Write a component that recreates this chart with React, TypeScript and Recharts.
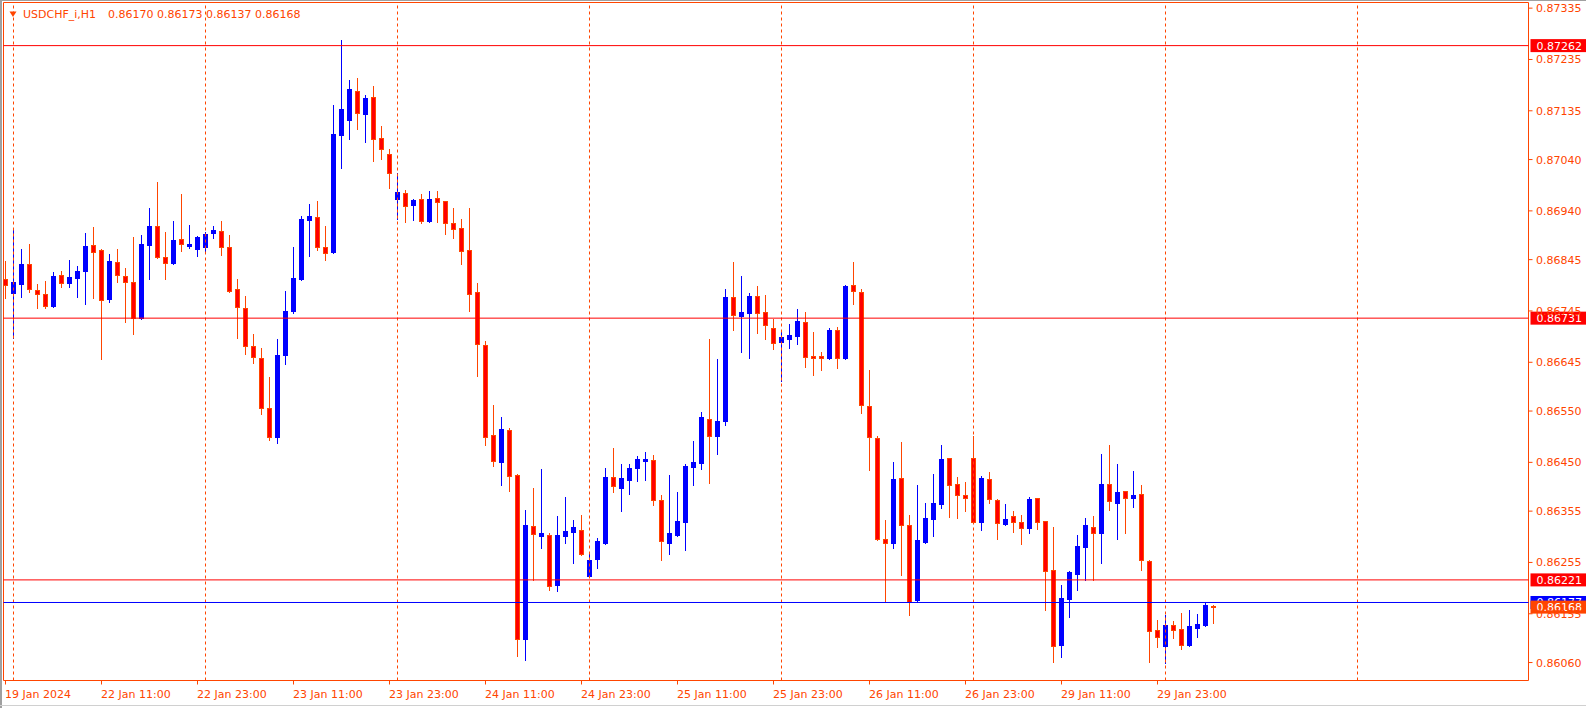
import React from "react";
import {
  ComposedChart,
  Bar,
  XAxis,
  YAxis,
  ReferenceLine,
  ReferenceArea,
} from "recharts";

const ORANGE = "#FF4500";
const BULL = "#0000FF";
const BEAR = "#FF0000";
const FONT = "'DejaVu Sans', Tahoma, sans-serif";

const symbol = "USDCHF_i,H1";

// H1 bars, index 0 = 19 Jan 23:00
const opens = [
  0.86807, 0.8678, 0.86798, 0.86836, 0.86786, 0.86779, 0.86755, 0.86815, 0.868, 0.8681,
  0.86823, 0.86873, 0.86864, 0.86769, 0.8684, 0.86814, 0.86801, 0.86731, 0.86874, 0.8691,
  0.8685, 0.86838, 0.86885, 0.86872, 0.86866, 0.8687, 0.86897, 0.869, 0.86869, 0.86787,
  0.86751, 0.86676, 0.86653, 0.86555, 0.86499, 0.8666, 0.86745, 0.86808, 0.86923, 0.86929,
  0.8687, 0.8686, 0.87088, 0.87118, 0.87174, 0.87129, 0.87162, 0.87082, 0.87051, 0.86964,
  0.86974, 0.86952, 0.86964, 0.86921, 0.86966, 0.86959, 0.86916, 0.86906, 0.86863, 0.86781,
  0.86678, 0.86503, 0.86451, 0.86514, 0.86425, 0.86106, 0.86326, 0.86307, 0.86308, 0.86212,
  0.86307, 0.86315, 0.86318, 0.86229, 0.86261, 0.86293, 0.86421, 0.86401, 0.86416, 0.8644,
  0.86453, 0.86454, 0.86376, 0.86293, 0.86308, 0.86334, 0.86441, 0.86449, 0.86535, 0.86502,
  0.86531, 0.86772, 0.86736, 0.86742, 0.86774, 0.86743, 0.86711, 0.86684, 0.86691, 0.86697,
  0.86723, 0.86657, 0.86657, 0.86654, 0.86707, 0.86654, 0.86795, 0.86781, 0.86559, 0.86497,
  0.863, 0.86293, 0.86419, 0.86327, 0.86182, 0.86295, 0.8634, 0.86369, 0.86458, 0.86407,
  0.86386, 0.86458, 0.86334, 0.86417, 0.86377, 0.8633, 0.86345, 0.86333, 0.86322, 0.8638,
  0.86335, 0.8624, 0.86095, 0.86184, 0.86233, 0.86286, 0.86325, 0.86313, 0.86407, 0.86371,
  0.86394, 0.86381, 0.86388, 0.86257, 0.86123, 0.86093, 0.86133, 0.86125, 0.86095, 0.86128,
  0.86134, 0.8617,
];

const highs = [
  0.86843, 0.86905, 0.86866, 0.86875, 0.86797, 0.86803, 0.86821, 0.86823, 0.86844, 0.86832,
  0.86897, 0.86909, 0.86866, 0.86856, 0.86866, 0.86829, 0.86889, 0.86893, 0.86946, 0.86996,
  0.86899, 0.8692, 0.86973, 0.86912, 0.86892, 0.86899, 0.8691, 0.8692, 0.86893, 0.86807,
  0.86774, 0.867, 0.86672, 0.86616, 0.8669, 0.86784, 0.8687, 0.8693, 0.86953, 0.86959,
  0.8691, 0.87146, 0.87273, 0.87195, 0.87199, 0.87166, 0.87183, 0.87105, 0.87061, 0.87013,
  0.86981, 0.86963, 0.86973, 0.86979, 0.86979, 0.8696, 0.86946, 0.86924, 0.86946, 0.86799,
  0.86686, 0.86562, 0.86538, 0.86516, 0.86427, 0.86357, 0.864, 0.86437, 0.86312, 0.86345,
  0.86382, 0.86338, 0.86347, 0.86271, 0.86302, 0.86439, 0.86478, 0.86447, 0.86447, 0.86462,
  0.8647, 0.86464, 0.86386, 0.86425, 0.86392, 0.86447, 0.86492, 0.86548, 0.8669, 0.86651,
  0.86788, 0.8684, 0.86813, 0.8678, 0.86794, 0.86776, 0.8673, 0.86708, 0.8672, 0.86748,
  0.86743, 0.86704, 0.86665, 0.86712, 0.86713, 0.86796, 0.8684, 0.86787, 0.8663, 0.86501,
  0.86337, 0.86451, 0.8649, 0.86347, 0.86406, 0.86371, 0.86427, 0.86484, 0.86459, 0.86421,
  0.86412, 0.86501, 0.86423, 0.86431, 0.86379, 0.86369, 0.86355, 0.86347, 0.86382, 0.86381,
  0.86336, 0.86324, 0.86211, 0.86238, 0.86308, 0.86341, 0.86345, 0.86466, 0.86484, 0.86447,
  0.86395, 0.86433, 0.86406, 0.8626, 0.86143, 0.86153, 0.86141, 0.86156, 0.86162, 0.86155,
  0.86176, 0.86173,
];

const lows = [
  0.8677, 0.86692, 0.86773, 0.86782, 0.8675, 0.8675, 0.86753, 0.86792, 0.86792, 0.86773,
  0.86759, 0.86771, 0.86652, 0.86763, 0.86802, 0.86724, 0.86701, 0.86729, 0.86808, 0.86849,
  0.86807, 0.86836, 0.86862, 0.86868, 0.86853, 0.86858, 0.86888, 0.86855, 0.86781, 0.86693,
  0.86662, 0.86644, 0.86545, 0.86493, 0.86488, 0.86642, 0.86742, 0.86806, 0.86853, 0.86864,
  0.86844, 0.86858, 0.87024, 0.8708, 0.871, 0.87075, 0.87038, 0.87042, 0.86985, 0.86925,
  0.86919, 0.86922, 0.86917, 0.86918, 0.86919, 0.86895, 0.86888, 0.86837, 0.86745, 0.86619,
  0.86484, 0.86443, 0.86405, 0.86395, 0.86073, 0.86065, 0.86221, 0.86284, 0.86202, 0.862,
  0.86292, 0.86253, 0.8627, 0.86228, 0.86245, 0.86291, 0.86393, 0.86356, 0.86389, 0.86414,
  0.86416, 0.86366, 0.8626, 0.86272, 0.86306, 0.8628, 0.86406, 0.86438, 0.8641, 0.86467,
  0.86523, 0.86708, 0.86666, 0.86654, 0.86703, 0.86691, 0.8667, 0.86609, 0.86673, 0.86681,
  0.86636, 0.86621, 0.86629, 0.86652, 0.86634, 0.86652, 0.86759, 0.86547, 0.86436, 0.86298,
  0.86177, 0.86283, 0.86231, 0.86153, 0.8618, 0.86293, 0.86307, 0.86362, 0.86344, 0.86342,
  0.86356, 0.86332, 0.86319, 0.86371, 0.86301, 0.86327, 0.86315, 0.8629, 0.86313, 0.86321,
  0.86163, 0.86062, 0.86071, 0.86149, 0.86202, 0.86221, 0.86221, 0.86253, 0.86358, 0.86301,
  0.86313, 0.86364, 0.86241, 0.86062, 0.8609, 0.8606, 0.86108, 0.86087, 0.86093, 0.8611,
  0.86132, 0.86137,
];

const closes = [
  0.86796, 0.86801, 0.86836, 0.86787, 0.86779, 0.86755, 0.86813, 0.868, 0.86811, 0.86823,
  0.86872, 0.86859, 0.86767, 0.86842, 0.86816, 0.86801, 0.86731, 0.86875, 0.8691, 0.86851,
  0.86838, 0.86883, 0.86875, 0.86875, 0.8689, 0.86894, 0.86903, 0.8687, 0.86784, 0.86752,
  0.86677, 0.86655, 0.86555, 0.86499, 0.86659, 0.86745, 0.86809, 0.86924, 0.8693, 0.8687,
  0.86858, 0.8709, 0.87138, 0.87177, 0.87131, 0.8716, 0.87081, 0.8706, 0.87014, 0.86977,
  0.8695, 0.86962, 0.86921, 0.86964, 0.86958, 0.86916, 0.86904, 0.86861, 0.86779, 0.8668,
  0.865, 0.86452, 0.86515, 0.86423, 0.86106, 0.86328, 0.86311, 0.86312, 0.8621, 0.86308,
  0.86316, 0.86324, 0.86272, 0.8626, 0.86297, 0.86421, 0.86403, 0.86419, 0.8644, 0.86456,
  0.86457, 0.86376, 0.86296, 0.86312, 0.86335, 0.86442, 0.8645, 0.86538, 0.86501, 0.8653,
  0.86772, 0.86738, 0.86743, 0.86774, 0.86742, 0.86717, 0.86682, 0.86694, 0.86699, 0.86725,
  0.86655, 0.86654, 0.86654, 0.86707, 0.86653, 0.86793, 0.86783, 0.86561, 0.86499, 0.86301,
  0.86292, 0.86418, 0.86327, 0.86177, 0.86299, 0.86341, 0.8637, 0.86457, 0.86405, 0.86386,
  0.86381, 0.86334, 0.8642, 0.86378, 0.86331, 0.86339, 0.86333, 0.86323, 0.86379, 0.86333,
  0.86238, 0.86093, 0.86185, 0.86236, 0.86288, 0.86327, 0.86312, 0.86408, 0.86374, 0.86392,
  0.86381, 0.86386, 0.86259, 0.86122, 0.86109, 0.86133, 0.86123, 0.86095, 0.86131, 0.86135,
  0.86172, 0.86168,
];

const timeTicks = [0, 12, 24, 36, 48, 60, 72, 84, 96, 108, 120, 132, 144];
const timeLabels = [
  "19 Jan 2024", "22 Jan 11:00", "22 Jan 23:00", "23 Jan 11:00", "23 Jan 23:00",
  "24 Jan 11:00", "24 Jan 23:00", "25 Jan 11:00", "25 Jan 23:00", "26 Jan 11:00",
  "26 Jan 23:00", "29 Jan 11:00", "29 Jan 23:00",
];
// bar index of each day start (dotted separators)
const dayStarts = [1, 25, 49, 73, 97, 121, 145, 169];

const priceTicks = [
  0.87335, 0.87235, 0.87135, 0.8704, 0.8694, 0.86845, 0.86745, 0.86645, 0.8655,
  0.8645, 0.86355, 0.86255, 0.86155, 0.8606,
];
const levels = [0.87262, 0.86731, 0.86221];
const askPrice = 0.86177;

const X_DOMAIN: [number, number] = [-0.25, 190.375];
const Y_DOMAIN: [number, number] = [0.86025, 0.87346];

const rows = opens.map((o, i) => ({
  i,
  open: o,
  high: highs[i],
  low: lows[i],
  close: closes[i],
}));

function Candle(props: any) {
  const { x, y, width, height, payload } = props;
  if (!payload || typeof y !== "number" || typeof height !== "number") return null;
  const top = Math.min(y, y + height);
  const h = Math.abs(height);
  const span = payload.high - payload.low;
  const toY = (p: number) => (span > 0 ? top + ((payload.high - p) / span) * h : top);
  const cx = Math.round(x + width / 2 - 0.5) + 0.5;
  const bull = payload.close >= payload.open;
  const yHigh = Math.round(toY(payload.high));
  const yLow = Math.round(toY(payload.low));
  const b1 = Math.round(toY(Math.max(payload.open, payload.close)));
  const b2 = Math.round(toY(Math.min(payload.open, payload.close)));
  return (
    <g>
      <line
        x1={cx}
        x2={cx}
        y1={yHigh}
        y2={yLow + 1}
        stroke={bull ? BULL : ORANGE}
        strokeWidth={1}
      />
      {bull ? (
        <rect x={cx - 2.5} y={b1} width={5} height={Math.max(b2 - b1 + 1, 1)} fill={BULL} />
      ) : (
        <rect
          x={cx - 2}
          y={b1 + 0.5}
          width={4}
          height={Math.max(b2 - b1, 1)}
          fill={BEAR}
          stroke={ORANGE}
          strokeWidth={1}
        />
      )}
    </g>
  );
}

function TimeTick(props: any) {
  const { x, y, payload } = props;
  const k = timeTicks.indexOf(payload.value);
  return (
    <text x={x - 0.5} y={y + 13.5} fill={ORANGE} fontSize={11} fontFamily={FONT} textAnchor="start">
      {timeLabels[k]}
    </text>
  );
}

function PriceTick(props: any) {
  const { x, y, payload } = props;
  return (
    <text x={x + 3.5} y={y + 4} fill={ORANGE} fontSize={11} fontFamily={FONT} textAnchor="start">
      {Number(payload.value).toFixed(5)}
    </text>
  );
}

function priceTag(price: number, bg: string) {
  return (props: any) => {
    const vb = props.viewBox;
    if (!vb) return null;
    const x = vb.x + vb.width + 2;
    const y = vb.y;
    return (
      <g>
        <rect x={x} y={y - 6.5} width={56} height={13} fill={bg} />
        <text x={x + 6} y={y + 4} fill="#FFFFFF" fontSize={11} fontFamily={FONT}>
          {price.toFixed(5)}
        </text>
      </g>
    );
  };
}

export default function App() {
  const last = rows[rows.length - 1];
  return (
    <div
      style={{
        position: "absolute",
        left: 0,
        top: 0,
        width: 1586,
        height: 708,
        background: "#FFFFFF",
        overflow: "hidden",
      }}
    >
      <ComposedChart
        width={1586}
        height={708}
        data={rows}
        margin={{ top: 2.5, left: 3.5, right: 0, bottom: 0 }}
      >
        <ReferenceArea
          x1={X_DOMAIN[0]}
          x2={X_DOMAIN[1]}
          y1={Y_DOMAIN[0]}
          y2={Y_DOMAIN[1]}
          stroke={ORANGE}
          strokeWidth={1}
          fill="none"
          fillOpacity={0}
          ifOverflow="visible"
        />
        <XAxis
          dataKey="i"
          type="number"
          domain={X_DOMAIN}
          allowDataOverflow
          ticks={timeTicks}
          interval={0}
          height={27.5}
          axisLine={false}
          tickLine={{ stroke: ORANGE }}
          tickSize={4}
          tickMargin={0}
          tick={<TimeTick />}
        />
        <YAxis
          type="number"
          orientation="right"
          domain={Y_DOMAIN}
          allowDataOverflow
          ticks={priceTicks}
          interval={0}
          width={57.5}
          axisLine={false}
          tickLine={{ stroke: ORANGE }}
          tickSize={4}
          tickMargin={0}
          tick={<PriceTick />}
        />
        {dayStarts.map((d) => (
          <ReferenceLine
            key={"d" + d}
            x={d}
            stroke={ORANGE}
            strokeWidth={1}
            strokeDasharray="3 3"
          />
        ))}
        <Bar
          dataKey={(d: any) => [d.low, d.high]}
          barSize={5}
          shape={<Candle />}
          isAnimationActive={false}
        />
        {levels.map((lv) => (
          <ReferenceLine
            key={"l" + lv}
            y={lv}
            stroke={BEAR}
            strokeWidth={1}
            label={priceTag(lv, BEAR)}
          />
        ))}
        <ReferenceLine y={askPrice} stroke={BULL} strokeWidth={1} label={priceTag(askPrice, BULL)} />
        <ReferenceLine y={last.close} stroke="none" label={priceTag(last.close, ORANGE)} />
      </ComposedChart>

      <div
        style={{
          position: "absolute",
          left: 23,
          top: 8,
          fontFamily: FONT,
          fontSize: 11,
          lineHeight: "13px",
          color: ORANGE,
          whiteSpace: "pre",
        }}
      >
        <span>{symbol}</span>
        <span style={{ marginLeft: 12 }}>
          {[last.open, last.high, last.low, last.close].map((v) => v.toFixed(5)).join(" ")}
        </span>
      </div>
      <svg style={{ position: "absolute", left: 9, top: 11 }} width={9} height={7}>
        <polygon points="0.5,0.5 7.5,0.5 4,6" fill={ORANGE} />
      </svg>
      <div style={{ position: "absolute", left: 0, top: 0, width: 1586, height: 1, background: "#A0A0A0" }} />
      <div style={{ position: "absolute", left: 0, top: 0, width: 2, height: 708, background: "#A0A0A0" }} />
      <div style={{ position: "absolute", left: 0, top: 705, width: 1586, height: 1, background: "#D0D0D0" }} />
    </div>
  );
}
